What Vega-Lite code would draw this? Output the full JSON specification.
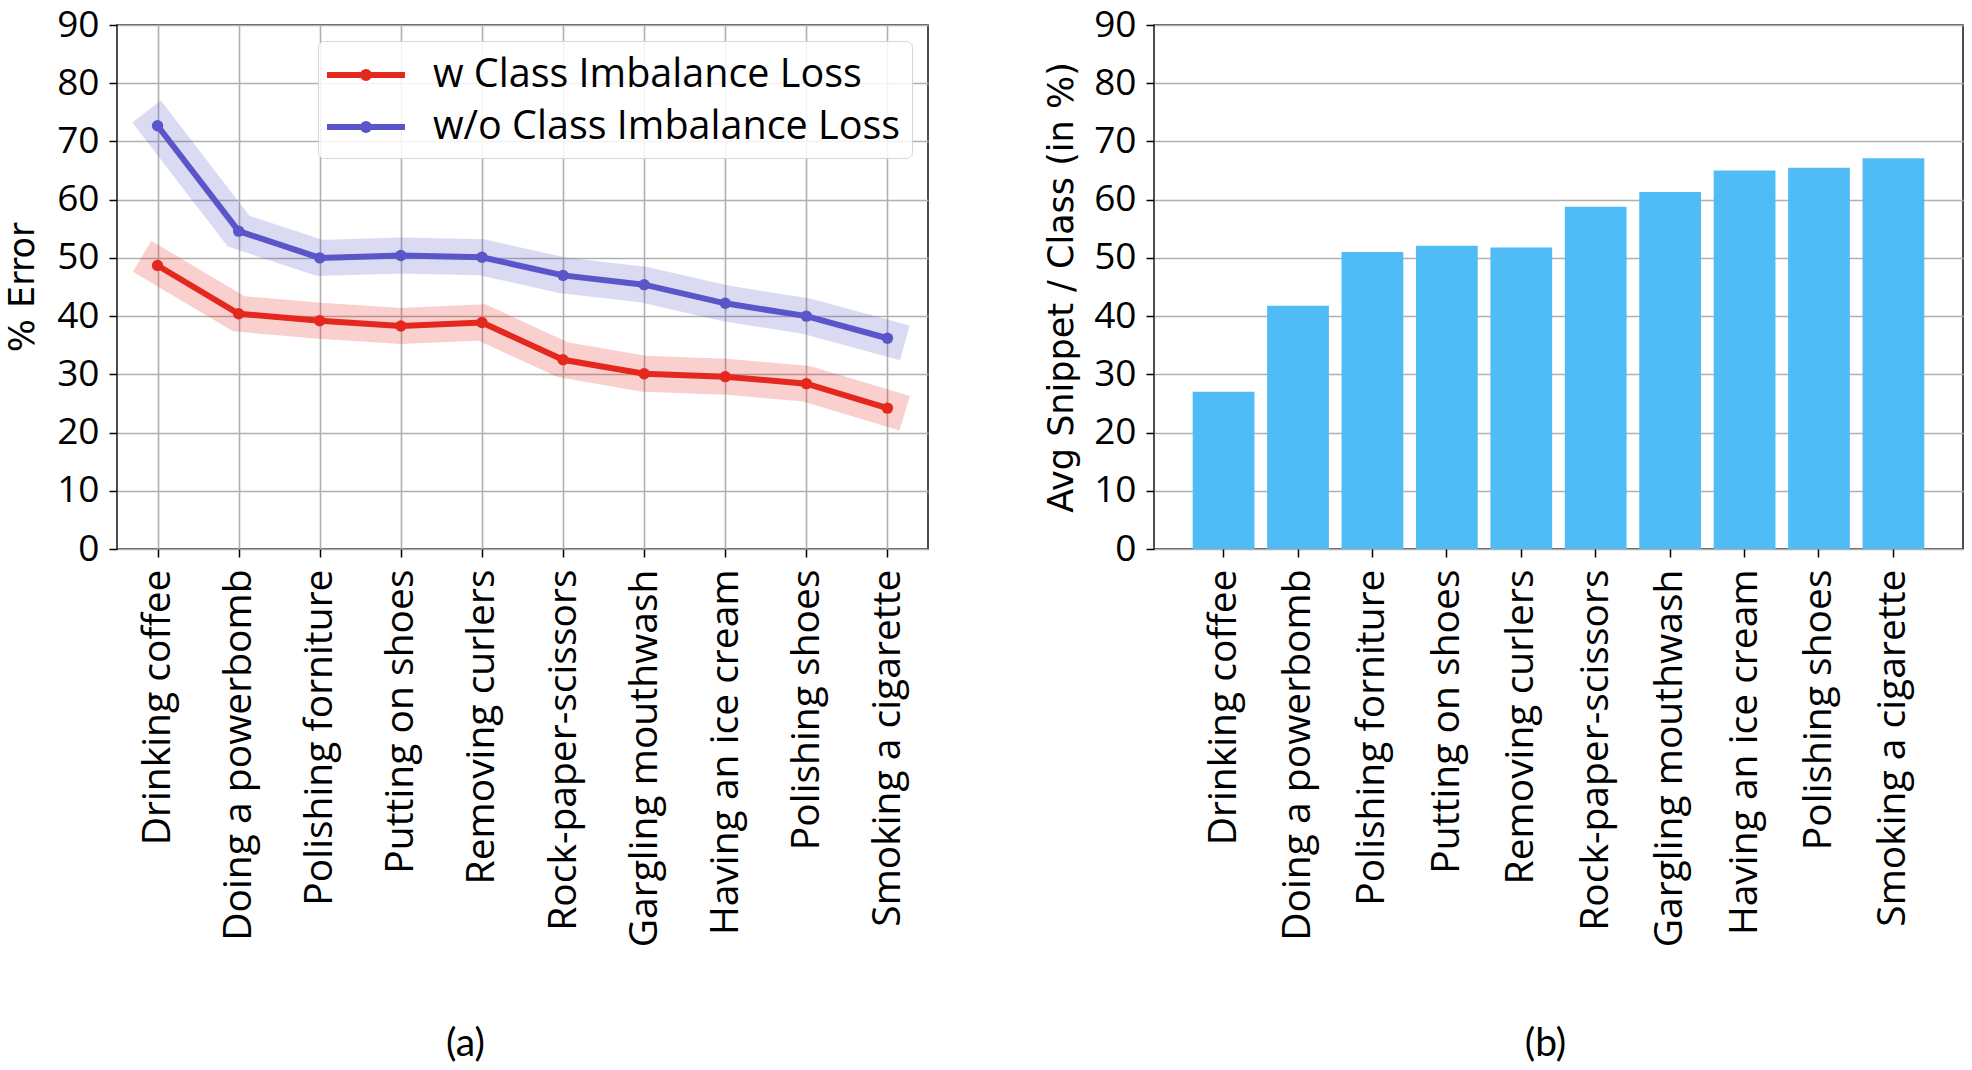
{
  "$schema": "https://vega.github.io/schema/vega-lite/v6.json",
  "background": "white",
  "padding": {"left": 4, "top": 5, "right": 4, "bottom": 4},
  "datasets": {
    "err": [
      {"activity": "Drinking coffee", "loss": "w Class Imbalance Loss", "value": 48.7},
      {"activity": "Doing a powerbomb", "loss": "w Class Imbalance Loss", "value": 40.4},
      {"activity": "Polishing forniture", "loss": "w Class Imbalance Loss", "value": 39.2},
      {"activity": "Putting on shoes", "loss": "w Class Imbalance Loss", "value": 38.3},
      {"activity": "Removing curlers", "loss": "w Class Imbalance Loss", "value": 38.9},
      {"activity": "Rock-paper-scissors", "loss": "w Class Imbalance Loss", "value": 32.5},
      {"activity": "Gargling mouthwash", "loss": "w Class Imbalance Loss", "value": 30.1},
      {"activity": "Having an ice cream", "loss": "w Class Imbalance Loss", "value": 29.6},
      {"activity": "Polishing shoes", "loss": "w Class Imbalance Loss", "value": 28.4},
      {"activity": "Smoking a cigarette", "loss": "w Class Imbalance Loss", "value": 24.2},
      {"activity": "Drinking coffee", "loss": "w/o Class Imbalance Loss", "value": 72.7},
      {"activity": "Doing a powerbomb", "loss": "w/o Class Imbalance Loss", "value": 54.6},
      {"activity": "Polishing forniture", "loss": "w/o Class Imbalance Loss", "value": 50.0},
      {"activity": "Putting on shoes", "loss": "w/o Class Imbalance Loss", "value": 50.4},
      {"activity": "Removing curlers", "loss": "w/o Class Imbalance Loss", "value": 50.1},
      {"activity": "Rock-paper-scissors", "loss": "w/o Class Imbalance Loss", "value": 47.0},
      {"activity": "Gargling mouthwash", "loss": "w/o Class Imbalance Loss", "value": 45.4},
      {"activity": "Having an ice cream", "loss": "w/o Class Imbalance Loss", "value": 42.2},
      {"activity": "Polishing shoes", "loss": "w/o Class Imbalance Loss", "value": 40.0},
      {"activity": "Smoking a cigarette", "loss": "w/o Class Imbalance Loss", "value": 36.2}
    ],
    "snip": [
      {"activity": "Drinking coffee", "value": 27.0},
      {"activity": "Doing a powerbomb", "value": 41.8},
      {"activity": "Polishing forniture", "value": 51.0},
      {"activity": "Putting on shoes", "value": 52.1},
      {"activity": "Removing curlers", "value": 51.8},
      {"activity": "Rock-paper-scissors", "value": 58.8},
      {"activity": "Gargling mouthwash", "value": 61.3},
      {"activity": "Having an ice cream", "value": 65.0},
      {"activity": "Polishing shoes", "value": 65.5},
      {"activity": "Smoking a cigarette", "value": 67.1}
    ]
  },
  "config": {
    "view": {"stroke": "#222222", "strokeWidth": 1.6},
    "axis": {
      "labelFont": "Open Sans", "labelFontSize": 37, "labelColor": "#000000", "labelLimit": 600,
      "titleFont": "DejaVu Sans", "titleFontSize": 35, "titleFontWeight": "normal", "titleColor": "#000000",
      "tickColor": "#000000", "tickSize": 8, "tickWidth": 1.5,
      "gridColor": "#b0b0b0", "gridWidth": 1.6, "gridOpacity": 1,
      "domain": false, "labelPadding": 10
    }
  },
  "resolve": {"scale": {"color": "independent"}, "legend": {"color": "independent"}},
  "hconcat": [
    {
      "width": 811, "height": 524,
      "data": {"name": "err"},
      "title": {"text": "(a)", "orient": "bottom", "anchor": "middle", "frame": "group", "dx": -57, "offset": 78, "font": "Lato", "fontSize": 39, "fontWeight": "normal", "color": "#000000"},
      "encoding": {
        "x": {"field": "activity", "type": "nominal", "title": null,
          "scale": {"type": "point", "padding": 0.5, "domain": ["Drinking coffee", "Doing a powerbomb", "Polishing forniture", "Putting on shoes", "Removing curlers", "Rock-paper-scissors", "Gargling mouthwash", "Having an ice cream", "Polishing shoes", "Smoking a cigarette"]},
          "axis": {"labelAngle": -90, "grid": true, "labelPadding": 12, "labelFontSize": 39}},
        "y": {"field": "value", "type": "quantitative", "title": "% Error",
          "scale": {"domain": [0, 90], "nice": false},
          "axis": {"values": [0, 10, 20, 30, 40, 50, 60, 70, 80, 90], "grid": true, "titlePadding": 16}},
        "color": {"field": "loss", "type": "nominal",
          "scale": {"domain": ["w Class Imbalance Loss", "w/o Class Imbalance Loss"], "range": ["#e5281e", "#5a56c9"]},
          "legend": {
            "title": null, "orient": "top-right", "offset": 16,
            "fillColor": "rgba(255,255,255,0.85)", "strokeColor": "#d6d6d6", "cornerRadius": 6, "padding": 11,
            "labelFont": "Open Sans", "labelFontSize": 39.5, "labelColor": "#000000", "labelLimit": 700,
            "symbolType": "M-1.95,0L1.95,0M0.15,0A0.15,0.15,0,1,1,-0.15,0A0.15,0.15,0,1,1,0.15,0Z",
            "symbolSize": 1600, "symbolStrokeWidth": 6, "symbolOffset": 14, "labelOffset": 44, "rowPadding": 9,
            "encode": {"symbols": {"update": {
              "fill": {"scale": "color", "field": "value"},
              "stroke": {"scale": "color", "field": "value"},
              "opacity": {"value": 1}, "fillOpacity": {"value": 1}, "strokeOpacity": {"value": 1}}}}
          }}
      },
      "layer": [
        {"mark": {"type": "line", "strokeWidth": 36, "opacity": 0.22, "strokeCap": "square", "strokeJoin": "miter"}},
        {"mark": {"type": "line", "strokeWidth": 6}},
        {"mark": {"type": "point", "filled": true, "size": 130, "opacity": 1}}
      ]
    },
    {
      "width": 809, "height": 524,
      "data": {"name": "snip"},
      "title": {"text": "(b)", "orient": "bottom", "anchor": "middle", "frame": "group", "dx": -13, "offset": 78, "font": "Lato", "fontSize": 39, "fontWeight": "normal", "color": "#000000"},
      "mark": {"type": "bar", "color": "#50bcf6"},
      "encoding": {
        "x": {"field": "activity", "type": "nominal", "title": null,
          "scale": {"type": "band", "paddingInner": 0.17, "paddingOuter": 0.52, "domain": ["Drinking coffee", "Doing a powerbomb", "Polishing forniture", "Putting on shoes", "Removing curlers", "Rock-paper-scissors", "Gargling mouthwash", "Having an ice cream", "Polishing shoes", "Smoking a cigarette"]},
          "axis": {"labelAngle": -90, "grid": false, "labelPadding": 12, "labelFontSize": 39}},
        "y": {"field": "value", "type": "quantitative", "title": "Avg Snippet / Class (in %)",
          "scale": {"domain": [0, 90], "nice": false},
          "axis": {"values": [0, 10, 20, 30, 40, 50, 60, 70, 80, 90], "grid": true, "titlePadding": 14}}
      }
    }
  ],
  "spacing": 226,
  "bounds": "flush"
}
